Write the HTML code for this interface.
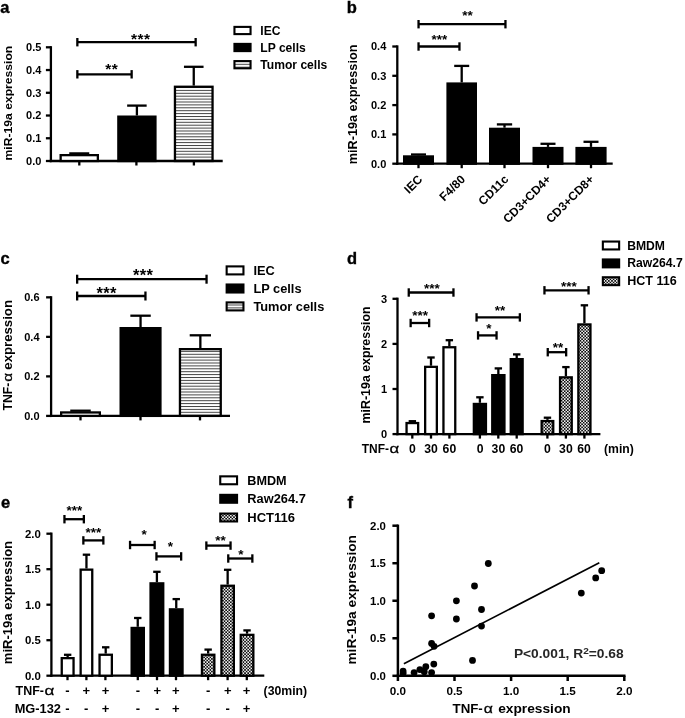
<!DOCTYPE html>
<html><head><meta charset="utf-8"><title>Figure</title>
<style>
html,body{margin:0;padding:0;background:#fff;}
body{width:685px;height:718px;overflow:hidden;font-family:"Liberation Sans",sans-serif;}
svg{display:block;font-family:"Liberation Sans",sans-serif;filter:blur(0.35px);}
</style></head><body>
<svg width="685" height="718" viewBox="0 0 685 718">
<defs>
<pattern id="hs" width="4" height="2.9" patternUnits="userSpaceOnUse"><rect width="4" height="2.9" fill="#fff"/><rect y="0" width="4" height="1.0" fill="#444"/></pattern>
<pattern id="ck" width="2" height="2" patternUnits="userSpaceOnUse" patternTransform="translate(0.1 -0.2) scale(1.575)"><rect width="2" height="2" fill="#0c0c0c"/><rect x="1" y="0" width="1" height="1" fill="#f0f0f0"/><rect x="0" y="1" width="1" height="1" fill="#f0f0f0"/></pattern>
</defs>
<rect width="685" height="718" fill="#fff"/>

<text x="0.30" y="13.20" font-size="16.5" font-weight="bold" text-anchor="start" fill="#000" stroke="#000" stroke-width="0.35">a</text>
<line x1="50.90" y1="46.15" x2="50.90" y2="162.15" stroke="#000" stroke-width="2.3" />
<line x1="49.75" y1="161.00" x2="222.70" y2="161.00" stroke="#000" stroke-width="2.3" />
<line x1="45.90" y1="161.00" x2="50.90" y2="161.00" stroke="#000" stroke-width="2.3" />
<text x="41.40" y="164.96" font-size="11" font-weight="bold" text-anchor="end" fill="#000" >0.0</text>
<line x1="45.90" y1="138.26" x2="50.90" y2="138.26" stroke="#000" stroke-width="2.3" />
<text x="41.40" y="142.22" font-size="11" font-weight="bold" text-anchor="end" fill="#000" >0.1</text>
<line x1="45.90" y1="115.52" x2="50.90" y2="115.52" stroke="#000" stroke-width="2.3" />
<text x="41.40" y="119.48" font-size="11" font-weight="bold" text-anchor="end" fill="#000" >0.2</text>
<line x1="45.90" y1="92.78" x2="50.90" y2="92.78" stroke="#000" stroke-width="2.3" />
<text x="41.40" y="96.74" font-size="11" font-weight="bold" text-anchor="end" fill="#000" >0.3</text>
<line x1="45.90" y1="70.04" x2="50.90" y2="70.04" stroke="#000" stroke-width="2.3" />
<text x="41.40" y="74.00" font-size="11" font-weight="bold" text-anchor="end" fill="#000" >0.4</text>
<line x1="45.90" y1="47.30" x2="50.90" y2="47.30" stroke="#000" stroke-width="2.3" />
<text x="41.40" y="51.26" font-size="11" font-weight="bold" text-anchor="end" fill="#000" >0.5</text>
<line x1="79.30" y1="161.00" x2="79.30" y2="165.50" stroke="#000" stroke-width="2.3" />
<line x1="136.40" y1="161.00" x2="136.40" y2="165.50" stroke="#000" stroke-width="2.3" />
<line x1="193.90" y1="161.00" x2="193.90" y2="165.50" stroke="#000" stroke-width="2.3" />
<text x="11.60" y="160.50" font-size="11.8" font-weight="bold" text-anchor="start" fill="#000" transform="rotate(-90 11.60 160.50)" textLength="114.80" lengthAdjust="spacingAndGlyphs" >miR-19a expression</text>
<line x1="79.25" y1="154.00" x2="79.25" y2="153.40" stroke="#000" stroke-width="2.3" />
<line x1="69.25" y1="153.40" x2="89.25" y2="153.40" stroke="#000" stroke-width="2.3" />
<rect x="60.65" y="155.15" width="37.20" height="5.85" fill="#fff" stroke="#000" stroke-width="2.3"/>
<line x1="136.90" y1="115.50" x2="136.90" y2="105.60" stroke="#000" stroke-width="2.3" />
<line x1="127.15" y1="105.60" x2="146.65" y2="105.60" stroke="#000" stroke-width="2.3" />
<rect x="118.35" y="116.65" width="37.10" height="44.35" fill="#000" stroke="#000" stroke-width="2.3"/>
<line x1="193.75" y1="85.60" x2="193.75" y2="66.80" stroke="#000" stroke-width="2.3" />
<line x1="183.95" y1="66.80" x2="203.55" y2="66.80" stroke="#000" stroke-width="2.3" />
<rect x="174.95" y="86.75" width="37.60" height="74.25" fill="url(#hs)" stroke="#000" stroke-width="2.3"/>
<line x1="77.35" y1="42.20" x2="195.65" y2="42.20" stroke="#000" stroke-width="2.3" />
<line x1="77.35" y1="38.00" x2="77.35" y2="46.40" stroke="#000" stroke-width="2.3" />
<line x1="195.65" y1="38.00" x2="195.65" y2="46.40" stroke="#000" stroke-width="2.3" />
<text x="140.75" y="44.49" font-size="15.5" font-weight="bold" text-anchor="middle" fill="#000" letter-spacing="0.5">***</text>
<line x1="77.35" y1="74.30" x2="131.65" y2="74.30" stroke="#000" stroke-width="2.3" />
<line x1="77.35" y1="70.10" x2="77.35" y2="78.50" stroke="#000" stroke-width="2.3" />
<line x1="131.65" y1="70.10" x2="131.65" y2="78.50" stroke="#000" stroke-width="2.3" />
<text x="111.75" y="74.00" font-size="15.5" font-weight="bold" text-anchor="middle" fill="#000" letter-spacing="0.5">**</text>
<rect x="234.45" y="26.90" width="16.10" height="7.20" fill="#fff" stroke="#000" stroke-width="2.1"/>
<text x="260.30" y="34.55" font-size="12.1" font-weight="bold" text-anchor="start" fill="#000" >IEC</text>
<rect x="234.45" y="43.90" width="16.10" height="7.20" fill="#000" stroke="#000" stroke-width="2.1"/>
<text x="260.30" y="51.55" font-size="12.1" font-weight="bold" text-anchor="start" fill="#000" >LP cells</text>
<rect x="234.45" y="61.10" width="16.10" height="7.20" fill="url(#hs)" stroke="#000" stroke-width="2.1"/>
<text x="260.30" y="68.75" font-size="12.1" font-weight="bold" text-anchor="start" fill="#000" >Tumor cells</text>
<text x="346.80" y="12.90" font-size="16.5" font-weight="bold" text-anchor="start" fill="#000" stroke="#000" stroke-width="0.35">b</text>
<line x1="397.30" y1="45.35" x2="397.30" y2="164.85" stroke="#000" stroke-width="2.3" />
<line x1="396.15" y1="163.70" x2="612.70" y2="163.70" stroke="#000" stroke-width="2.3" />
<line x1="392.30" y1="163.70" x2="397.30" y2="163.70" stroke="#000" stroke-width="2.3" />
<text x="386.30" y="167.66" font-size="11" font-weight="bold" text-anchor="end" fill="#000" >0.0</text>
<line x1="392.30" y1="134.40" x2="397.30" y2="134.40" stroke="#000" stroke-width="2.3" />
<text x="386.30" y="138.36" font-size="11" font-weight="bold" text-anchor="end" fill="#000" >0.1</text>
<line x1="392.30" y1="105.10" x2="397.30" y2="105.10" stroke="#000" stroke-width="2.3" />
<text x="386.30" y="109.06" font-size="11" font-weight="bold" text-anchor="end" fill="#000" >0.2</text>
<line x1="392.30" y1="75.80" x2="397.30" y2="75.80" stroke="#000" stroke-width="2.3" />
<text x="386.30" y="79.76" font-size="11" font-weight="bold" text-anchor="end" fill="#000" >0.3</text>
<line x1="392.30" y1="46.50" x2="397.30" y2="46.50" stroke="#000" stroke-width="2.3" />
<text x="386.30" y="50.46" font-size="11" font-weight="bold" text-anchor="end" fill="#000" >0.4</text>
<line x1="418.50" y1="163.70" x2="418.50" y2="168.20" stroke="#000" stroke-width="2.3" />
<line x1="461.70" y1="163.70" x2="461.70" y2="168.20" stroke="#000" stroke-width="2.3" />
<line x1="504.50" y1="163.70" x2="504.50" y2="168.20" stroke="#000" stroke-width="2.3" />
<line x1="548.00" y1="163.70" x2="548.00" y2="168.20" stroke="#000" stroke-width="2.3" />
<line x1="591.00" y1="163.70" x2="591.00" y2="168.20" stroke="#000" stroke-width="2.3" />
<text x="357.30" y="164.20" font-size="12.2" font-weight="bold" text-anchor="start" fill="#000" transform="rotate(-90 357.30 164.20)" textLength="119.60" lengthAdjust="spacingAndGlyphs" >miR-19a expression</text>
<line x1="418.50" y1="155.30" x2="418.50" y2="154.50" stroke="#000" stroke-width="2.3" />
<line x1="411.00" y1="154.50" x2="426.00" y2="154.50" stroke="#000" stroke-width="2.3" />
<rect x="404.15" y="156.45" width="28.70" height="7.25" fill="#000" stroke="#000" stroke-width="2.3"/>
<line x1="461.70" y1="82.40" x2="461.70" y2="65.90" stroke="#000" stroke-width="2.3" />
<line x1="454.20" y1="65.90" x2="469.20" y2="65.90" stroke="#000" stroke-width="2.3" />
<rect x="447.55" y="83.55" width="28.30" height="80.15" fill="#000" stroke="#000" stroke-width="2.3"/>
<line x1="504.50" y1="127.70" x2="504.50" y2="124.40" stroke="#000" stroke-width="2.3" />
<line x1="496.85" y1="124.40" x2="512.15" y2="124.40" stroke="#000" stroke-width="2.3" />
<rect x="490.15" y="128.85" width="28.70" height="34.85" fill="#000" stroke="#000" stroke-width="2.3"/>
<line x1="548.00" y1="146.90" x2="548.00" y2="143.80" stroke="#000" stroke-width="2.3" />
<line x1="540.50" y1="143.80" x2="555.50" y2="143.80" stroke="#000" stroke-width="2.3" />
<rect x="533.65" y="148.05" width="28.70" height="15.65" fill="#000" stroke="#000" stroke-width="2.3"/>
<line x1="591.00" y1="146.90" x2="591.00" y2="141.80" stroke="#000" stroke-width="2.3" />
<line x1="583.50" y1="141.80" x2="598.50" y2="141.80" stroke="#000" stroke-width="2.3" />
<rect x="576.55" y="148.05" width="28.90" height="15.65" fill="#000" stroke="#000" stroke-width="2.3"/>
<line x1="418.55" y1="24.20" x2="505.45" y2="24.20" stroke="#000" stroke-width="2.3" />
<line x1="418.55" y1="20.00" x2="418.55" y2="28.40" stroke="#000" stroke-width="2.3" />
<line x1="505.45" y1="20.00" x2="505.45" y2="28.40" stroke="#000" stroke-width="2.3" />
<text x="467.40" y="20.31" font-size="13.5" font-weight="bold" text-anchor="middle" fill="#000" >**</text>
<line x1="418.55" y1="46.50" x2="459.45" y2="46.50" stroke="#000" stroke-width="2.3" />
<line x1="418.55" y1="42.30" x2="418.55" y2="50.70" stroke="#000" stroke-width="2.3" />
<line x1="459.45" y1="42.30" x2="459.45" y2="50.70" stroke="#000" stroke-width="2.3" />
<text x="439.40" y="43.91" font-size="13.5" font-weight="bold" text-anchor="middle" fill="#000" >***</text>
<text x="423.20" y="180.00" font-size="12" font-weight="bold" text-anchor="end" fill="#000" transform="rotate(-45 423.20 180.00)" >IEC</text>
<text x="466.00" y="180.00" font-size="12" font-weight="bold" text-anchor="end" fill="#000" transform="rotate(-45 466.00 180.00)" >F4/80</text>
<text x="509.30" y="180.00" font-size="12" font-weight="bold" text-anchor="end" fill="#000" transform="rotate(-45 509.30 180.00)" >CD11c</text>
<text x="551.80" y="180.00" font-size="12" font-weight="bold" text-anchor="end" fill="#000" transform="rotate(-45 551.80 180.00)" >CD3+CD4+</text>
<text x="594.80" y="180.00" font-size="12" font-weight="bold" text-anchor="end" fill="#000" transform="rotate(-45 594.80 180.00)" >CD3+CD8+</text>
<text x="0.40" y="264.20" font-size="16.5" font-weight="bold" text-anchor="start" fill="#000" stroke="#000" stroke-width="0.35">c</text>
<line x1="51.10" y1="296.19" x2="51.10" y2="417.05" stroke="#000" stroke-width="2.3" />
<line x1="49.95" y1="415.90" x2="230.00" y2="415.90" stroke="#000" stroke-width="2.3" />
<line x1="46.10" y1="415.90" x2="51.10" y2="415.90" stroke="#000" stroke-width="2.3" />
<text x="39.50" y="419.86" font-size="11" font-weight="bold" text-anchor="end" fill="#000" >0.0</text>
<line x1="46.10" y1="376.38" x2="51.10" y2="376.38" stroke="#000" stroke-width="2.3" />
<text x="39.50" y="380.34" font-size="11" font-weight="bold" text-anchor="end" fill="#000" >0.2</text>
<line x1="46.10" y1="336.86" x2="51.10" y2="336.86" stroke="#000" stroke-width="2.3" />
<text x="39.50" y="340.82" font-size="11" font-weight="bold" text-anchor="end" fill="#000" >0.4</text>
<line x1="46.10" y1="297.34" x2="51.10" y2="297.34" stroke="#000" stroke-width="2.3" />
<text x="39.50" y="301.30" font-size="11" font-weight="bold" text-anchor="end" fill="#000" >0.6</text>
<line x1="80.50" y1="415.90" x2="80.50" y2="420.40" stroke="#000" stroke-width="2.3" />
<line x1="140.50" y1="415.90" x2="140.50" y2="420.40" stroke="#000" stroke-width="2.3" />
<line x1="200.00" y1="415.90" x2="200.00" y2="420.40" stroke="#000" stroke-width="2.3" />
<g transform="translate(11.60 410.40) rotate(-90)">
<text x="0" y="0" font-size="12.6" font-weight="bold" textLength="27.80" lengthAdjust="spacingAndGlyphs">TNF-</text>
<text transform="translate(28.60 0) scale(1.22 1)" x="0" y="0" font-size="12.4" font-weight="normal" stroke="#000" stroke-width="0.28">α</text>
<text x="40.70" y="0" font-size="12.6" font-weight="bold" textLength="69.70" lengthAdjust="spacingAndGlyphs">expression</text>
</g>
<line x1="80.50" y1="411.30" x2="80.50" y2="410.70" stroke="#000" stroke-width="2.3" />
<line x1="70.25" y1="410.70" x2="90.75" y2="410.70" stroke="#000" stroke-width="2.3" />
<rect x="61.15" y="412.45" width="38.70" height="3.45" fill="#fff" stroke="#000" stroke-width="2.3"/>
<line x1="140.55" y1="327.00" x2="140.55" y2="315.70" stroke="#000" stroke-width="2.3" />
<line x1="130.35" y1="315.70" x2="150.75" y2="315.70" stroke="#000" stroke-width="2.3" />
<rect x="120.65" y="328.15" width="39.80" height="87.75" fill="#000" stroke="#000" stroke-width="2.3"/>
<line x1="200.35" y1="348.00" x2="200.35" y2="335.30" stroke="#000" stroke-width="2.3" />
<line x1="189.70" y1="335.30" x2="211.00" y2="335.30" stroke="#000" stroke-width="2.3" />
<rect x="179.95" y="349.15" width="40.80" height="66.75" fill="url(#hs)" stroke="#000" stroke-width="2.3"/>
<line x1="77.15" y1="279.20" x2="206.55" y2="279.20" stroke="#000" stroke-width="2.3" />
<line x1="77.15" y1="274.70" x2="77.15" y2="283.70" stroke="#000" stroke-width="2.3" />
<line x1="206.55" y1="274.70" x2="206.55" y2="283.70" stroke="#000" stroke-width="2.3" />
<text x="143.15" y="281.28" font-size="16.5" font-weight="bold" text-anchor="middle" fill="#000" letter-spacing="0.3">***</text>
<line x1="77.15" y1="296.00" x2="145.45" y2="296.00" stroke="#000" stroke-width="2.3" />
<line x1="77.15" y1="291.50" x2="77.15" y2="300.50" stroke="#000" stroke-width="2.3" />
<line x1="145.45" y1="291.50" x2="145.45" y2="300.50" stroke="#000" stroke-width="2.3" />
<text x="106.55" y="298.78" font-size="16.5" font-weight="bold" text-anchor="middle" fill="#000" letter-spacing="0.3">***</text>
<rect x="226.65" y="266.40" width="16.80" height="8.00" fill="#fff" stroke="#000" stroke-width="2.1"/>
<text x="253.40" y="274.69" font-size="12.8" font-weight="bold" text-anchor="start" fill="#000" >IEC</text>
<rect x="226.65" y="284.50" width="16.80" height="8.00" fill="#000" stroke="#000" stroke-width="2.1"/>
<text x="253.40" y="292.79" font-size="12.8" font-weight="bold" text-anchor="start" fill="#000" >LP cells</text>
<rect x="226.65" y="302.40" width="16.80" height="8.00" fill="url(#hs)" stroke="#000" stroke-width="2.1"/>
<text x="253.40" y="310.69" font-size="12.8" font-weight="bold" text-anchor="start" fill="#000" >Tumor cells</text>
<text x="347.00" y="263.90" font-size="16.5" font-weight="bold" text-anchor="start" fill="#000" stroke="#000" stroke-width="0.35">d</text>
<line x1="397.50" y1="297.65" x2="397.50" y2="435.25" stroke="#000" stroke-width="2.3" />
<line x1="396.35" y1="434.10" x2="600.40" y2="434.10" stroke="#000" stroke-width="2.3" />
<line x1="392.50" y1="434.10" x2="397.50" y2="434.10" stroke="#000" stroke-width="2.3" />
<text x="387.00" y="438.36" font-size="11" font-weight="bold" text-anchor="end" fill="#000" >0</text>
<line x1="392.50" y1="389.00" x2="397.50" y2="389.00" stroke="#000" stroke-width="2.3" />
<text x="387.00" y="393.26" font-size="11" font-weight="bold" text-anchor="end" fill="#000" >1</text>
<line x1="392.50" y1="343.90" x2="397.50" y2="343.90" stroke="#000" stroke-width="2.3" />
<text x="387.00" y="348.16" font-size="11" font-weight="bold" text-anchor="end" fill="#000" >2</text>
<line x1="392.50" y1="298.80" x2="397.50" y2="298.80" stroke="#000" stroke-width="2.3" />
<text x="387.00" y="303.06" font-size="11" font-weight="bold" text-anchor="end" fill="#000" >3</text>
<line x1="412.30" y1="434.10" x2="412.30" y2="438.60" stroke="#000" stroke-width="2.3" />
<line x1="431.00" y1="434.10" x2="431.00" y2="438.60" stroke="#000" stroke-width="2.3" />
<line x1="449.40" y1="434.10" x2="449.40" y2="438.60" stroke="#000" stroke-width="2.3" />
<line x1="479.90" y1="434.10" x2="479.90" y2="438.60" stroke="#000" stroke-width="2.3" />
<line x1="498.30" y1="434.10" x2="498.30" y2="438.60" stroke="#000" stroke-width="2.3" />
<line x1="516.70" y1="434.10" x2="516.70" y2="438.60" stroke="#000" stroke-width="2.3" />
<line x1="547.40" y1="434.10" x2="547.40" y2="438.60" stroke="#000" stroke-width="2.3" />
<line x1="565.90" y1="434.10" x2="565.90" y2="438.60" stroke="#000" stroke-width="2.3" />
<line x1="584.40" y1="434.10" x2="584.40" y2="438.60" stroke="#000" stroke-width="2.3" />
<text x="369.90" y="423.40" font-size="12.3" font-weight="bold" text-anchor="start" fill="#000" transform="rotate(-90 369.90 423.40)" textLength="117.00" lengthAdjust="spacingAndGlyphs" >miR-19a expression</text>
<line x1="412.35" y1="421.90" x2="412.35" y2="421.20" stroke="#000" stroke-width="2.3" />
<line x1="408.65" y1="421.20" x2="416.05" y2="421.20" stroke="#000" stroke-width="2.3" />
<rect x="406.55" y="423.05" width="11.60" height="11.05" fill="#fff" stroke="#000" stroke-width="2.3"/>
<line x1="431.00" y1="365.70" x2="431.00" y2="357.50" stroke="#000" stroke-width="2.3" />
<line x1="427.30" y1="357.50" x2="434.70" y2="357.50" stroke="#000" stroke-width="2.3" />
<rect x="425.15" y="366.85" width="11.70" height="67.25" fill="#fff" stroke="#000" stroke-width="2.3"/>
<line x1="449.35" y1="346.10" x2="449.35" y2="340.20" stroke="#000" stroke-width="2.3" />
<line x1="445.65" y1="340.20" x2="453.05" y2="340.20" stroke="#000" stroke-width="2.3" />
<rect x="443.45" y="347.25" width="11.80" height="86.85" fill="#fff" stroke="#000" stroke-width="2.3"/>
<line x1="479.90" y1="402.80" x2="479.90" y2="397.30" stroke="#000" stroke-width="2.3" />
<line x1="476.20" y1="397.30" x2="483.60" y2="397.30" stroke="#000" stroke-width="2.3" />
<rect x="473.85" y="403.95" width="12.10" height="30.15" fill="#000" stroke="#000" stroke-width="2.3"/>
<line x1="498.35" y1="374.00" x2="498.35" y2="368.40" stroke="#000" stroke-width="2.3" />
<line x1="494.65" y1="368.40" x2="502.05" y2="368.40" stroke="#000" stroke-width="2.3" />
<rect x="492.25" y="375.15" width="12.20" height="58.95" fill="#000" stroke="#000" stroke-width="2.3"/>
<line x1="516.70" y1="358.00" x2="516.70" y2="354.40" stroke="#000" stroke-width="2.3" />
<line x1="513.00" y1="354.40" x2="520.40" y2="354.40" stroke="#000" stroke-width="2.3" />
<rect x="510.75" y="359.15" width="11.90" height="74.95" fill="#000" stroke="#000" stroke-width="2.3"/>
<line x1="547.45" y1="419.90" x2="547.45" y2="417.70" stroke="#000" stroke-width="2.3" />
<line x1="543.75" y1="417.70" x2="551.15" y2="417.70" stroke="#000" stroke-width="2.3" />
<rect x="541.65" y="421.05" width="11.60" height="13.05" fill="url(#ck)" stroke="#000" stroke-width="2.3"/>
<line x1="565.90" y1="376.20" x2="565.90" y2="367.10" stroke="#000" stroke-width="2.3" />
<line x1="562.20" y1="367.10" x2="569.60" y2="367.10" stroke="#000" stroke-width="2.3" />
<rect x="560.05" y="377.35" width="11.70" height="56.75" fill="url(#ck)" stroke="#000" stroke-width="2.3"/>
<line x1="584.40" y1="323.30" x2="584.40" y2="305.30" stroke="#000" stroke-width="2.3" />
<line x1="580.70" y1="305.30" x2="588.10" y2="305.30" stroke="#000" stroke-width="2.3" />
<rect x="578.35" y="324.45" width="12.10" height="109.65" fill="url(#ck)" stroke="#000" stroke-width="2.3"/>
<line x1="408.75" y1="292.50" x2="453.45" y2="292.50" stroke="#000" stroke-width="2.3" />
<line x1="408.75" y1="288.30" x2="408.75" y2="296.70" stroke="#000" stroke-width="2.3" />
<line x1="453.45" y1="288.30" x2="453.45" y2="296.70" stroke="#000" stroke-width="2.3" />
<text x="431.80" y="292.92" font-size="13.5" font-weight="bold" text-anchor="middle" fill="#000" >***</text>
<line x1="410.65" y1="323.00" x2="429.15" y2="323.00" stroke="#000" stroke-width="2.3" />
<line x1="410.65" y1="318.80" x2="410.65" y2="327.20" stroke="#000" stroke-width="2.3" />
<line x1="429.15" y1="318.80" x2="429.15" y2="327.20" stroke="#000" stroke-width="2.3" />
<text x="420.20" y="320.31" font-size="13.5" font-weight="bold" text-anchor="middle" fill="#000" >***</text>
<line x1="476.55" y1="317.40" x2="519.85" y2="317.40" stroke="#000" stroke-width="2.3" />
<line x1="476.55" y1="313.20" x2="476.55" y2="321.60" stroke="#000" stroke-width="2.3" />
<line x1="519.85" y1="313.20" x2="519.85" y2="321.60" stroke="#000" stroke-width="2.3" />
<text x="500.10" y="314.92" font-size="13.5" font-weight="bold" text-anchor="middle" fill="#000" >**</text>
<line x1="478.05" y1="335.40" x2="496.55" y2="335.40" stroke="#000" stroke-width="2.3" />
<line x1="478.05" y1="331.20" x2="478.05" y2="339.60" stroke="#000" stroke-width="2.3" />
<line x1="496.55" y1="331.20" x2="496.55" y2="339.60" stroke="#000" stroke-width="2.3" />
<text x="489.00" y="333.12" font-size="13.5" font-weight="bold" text-anchor="middle" fill="#000" >*</text>
<line x1="544.45" y1="290.30" x2="588.55" y2="290.30" stroke="#000" stroke-width="2.3" />
<line x1="544.45" y1="286.10" x2="544.45" y2="294.50" stroke="#000" stroke-width="2.3" />
<line x1="588.55" y1="286.10" x2="588.55" y2="294.50" stroke="#000" stroke-width="2.3" />
<text x="568.90" y="291.22" font-size="13.5" font-weight="bold" text-anchor="middle" fill="#000" >***</text>
<line x1="547.75" y1="352.20" x2="566.15" y2="352.20" stroke="#000" stroke-width="2.3" />
<line x1="547.75" y1="348.00" x2="547.75" y2="356.40" stroke="#000" stroke-width="2.3" />
<line x1="566.15" y1="348.00" x2="566.15" y2="356.40" stroke="#000" stroke-width="2.3" />
<text x="558.00" y="351.72" font-size="13.5" font-weight="bold" text-anchor="middle" fill="#000" >**</text>
<g transform="translate(361.80 453.30)">
<text x="0" y="0" font-size="12.9" font-weight="bold" textLength="27.20" lengthAdjust="spacingAndGlyphs">TNF-</text>
<text transform="translate(27.80 0) scale(1.33 1)" x="0" y="0" font-size="12.6" font-weight="normal" stroke="#000" stroke-width="0.28">α</text>
</g>
<text x="412.30" y="453.40" font-size="12.2" font-weight="bold" text-anchor="middle" fill="#000" >0</text>
<text x="431.00" y="453.40" font-size="12.2" font-weight="bold" text-anchor="middle" fill="#000" >30</text>
<text x="449.40" y="453.40" font-size="12.2" font-weight="bold" text-anchor="middle" fill="#000" >60</text>
<text x="480.20" y="453.40" font-size="12.2" font-weight="bold" text-anchor="middle" fill="#000" >0</text>
<text x="498.40" y="453.40" font-size="12.2" font-weight="bold" text-anchor="middle" fill="#000" >30</text>
<text x="516.60" y="453.40" font-size="12.2" font-weight="bold" text-anchor="middle" fill="#000" >60</text>
<text x="547.30" y="453.40" font-size="12.2" font-weight="bold" text-anchor="middle" fill="#000" >0</text>
<text x="565.90" y="453.40" font-size="12.2" font-weight="bold" text-anchor="middle" fill="#000" >30</text>
<text x="584.00" y="453.40" font-size="12.2" font-weight="bold" text-anchor="middle" fill="#000" >60</text>
<text x="604.00" y="453.40" font-size="12.2" font-weight="bold" text-anchor="start" fill="#000" >(min)</text>
<rect x="602.85" y="241.55" width="16.30" height="7.90" fill="#fff" stroke="#000" stroke-width="2.1"/>
<text x="627.20" y="249.59" font-size="12.2" font-weight="bold" text-anchor="start" fill="#000" textLength="37.80" lengthAdjust="spacingAndGlyphs" >BMDM</text>
<rect x="602.85" y="259.45" width="16.30" height="7.90" fill="#000" stroke="#000" stroke-width="2.1"/>
<text x="627.20" y="267.49" font-size="12.2" font-weight="bold" text-anchor="start" fill="#000" textLength="55.60" lengthAdjust="spacingAndGlyphs" >Raw264.7</text>
<rect x="602.85" y="277.25" width="16.30" height="7.90" fill="url(#ck)" stroke="#000" stroke-width="2.1"/>
<text x="627.20" y="285.29" font-size="12.2" font-weight="bold" text-anchor="start" fill="#000" textLength="49.50" lengthAdjust="spacingAndGlyphs" >HCT 116</text>
<text x="1.00" y="508.00" font-size="16.5" font-weight="bold" text-anchor="start" fill="#000" stroke="#000" stroke-width="0.35">e</text>
<line x1="51.40" y1="532.55" x2="51.40" y2="676.85" stroke="#000" stroke-width="2.3" />
<line x1="50.25" y1="675.70" x2="264.30" y2="675.70" stroke="#000" stroke-width="2.3" />
<line x1="46.40" y1="675.70" x2="51.40" y2="675.70" stroke="#000" stroke-width="2.3" />
<text x="40.80" y="679.80" font-size="11.4" font-weight="bold" text-anchor="end" fill="#000" >0.0</text>
<line x1="46.40" y1="640.20" x2="51.40" y2="640.20" stroke="#000" stroke-width="2.3" />
<text x="40.80" y="644.30" font-size="11.4" font-weight="bold" text-anchor="end" fill="#000" >0.5</text>
<line x1="46.40" y1="604.70" x2="51.40" y2="604.70" stroke="#000" stroke-width="2.3" />
<text x="40.80" y="608.80" font-size="11.4" font-weight="bold" text-anchor="end" fill="#000" >1.0</text>
<line x1="46.40" y1="569.20" x2="51.40" y2="569.20" stroke="#000" stroke-width="2.3" />
<text x="40.80" y="573.30" font-size="11.4" font-weight="bold" text-anchor="end" fill="#000" >1.5</text>
<line x1="46.40" y1="533.70" x2="51.40" y2="533.70" stroke="#000" stroke-width="2.3" />
<text x="40.80" y="537.80" font-size="11.4" font-weight="bold" text-anchor="end" fill="#000" >2.0</text>
<line x1="67.50" y1="675.70" x2="67.50" y2="680.20" stroke="#000" stroke-width="2.3" />
<line x1="86.40" y1="675.70" x2="86.40" y2="680.20" stroke="#000" stroke-width="2.3" />
<line x1="105.40" y1="675.70" x2="105.40" y2="680.20" stroke="#000" stroke-width="2.3" />
<line x1="137.80" y1="675.70" x2="137.80" y2="680.20" stroke="#000" stroke-width="2.3" />
<line x1="157.00" y1="675.70" x2="157.00" y2="680.20" stroke="#000" stroke-width="2.3" />
<line x1="176.00" y1="675.70" x2="176.00" y2="680.20" stroke="#000" stroke-width="2.3" />
<line x1="208.10" y1="675.70" x2="208.10" y2="680.20" stroke="#000" stroke-width="2.3" />
<line x1="227.60" y1="675.70" x2="227.60" y2="680.20" stroke="#000" stroke-width="2.3" />
<line x1="246.80" y1="675.70" x2="246.80" y2="680.20" stroke="#000" stroke-width="2.3" />
<text x="12.20" y="664.20" font-size="12.9" font-weight="bold" text-anchor="start" fill="#000" transform="rotate(-90 12.20 664.20)" textLength="123.30" lengthAdjust="spacingAndGlyphs" >miR-19a expression</text>
<line x1="67.65" y1="657.00" x2="67.65" y2="654.80" stroke="#000" stroke-width="2.3" />
<line x1="63.95" y1="654.80" x2="71.35" y2="654.80" stroke="#000" stroke-width="2.3" />
<rect x="61.75" y="658.15" width="11.80" height="17.55" fill="#fff" stroke="#000" stroke-width="2.3"/>
<line x1="86.45" y1="568.50" x2="86.45" y2="554.70" stroke="#000" stroke-width="2.3" />
<line x1="82.75" y1="554.70" x2="90.15" y2="554.70" stroke="#000" stroke-width="2.3" />
<rect x="80.65" y="569.65" width="11.60" height="106.05" fill="#fff" stroke="#000" stroke-width="2.3"/>
<line x1="105.70" y1="653.60" x2="105.70" y2="647.30" stroke="#000" stroke-width="2.3" />
<line x1="102.00" y1="647.30" x2="109.40" y2="647.30" stroke="#000" stroke-width="2.3" />
<rect x="99.55" y="654.75" width="12.30" height="20.95" fill="#fff" stroke="#000" stroke-width="2.3"/>
<line x1="137.75" y1="626.80" x2="137.75" y2="618.00" stroke="#000" stroke-width="2.3" />
<line x1="134.05" y1="618.00" x2="141.45" y2="618.00" stroke="#000" stroke-width="2.3" />
<rect x="131.65" y="627.95" width="12.20" height="47.75" fill="#000" stroke="#000" stroke-width="2.3"/>
<line x1="156.90" y1="582.20" x2="156.90" y2="571.80" stroke="#000" stroke-width="2.3" />
<line x1="153.20" y1="571.80" x2="160.60" y2="571.80" stroke="#000" stroke-width="2.3" />
<rect x="150.55" y="583.35" width="12.70" height="92.35" fill="#000" stroke="#000" stroke-width="2.3"/>
<line x1="176.25" y1="608.20" x2="176.25" y2="599.10" stroke="#000" stroke-width="2.3" />
<line x1="172.55" y1="599.10" x2="179.95" y2="599.10" stroke="#000" stroke-width="2.3" />
<rect x="169.95" y="609.35" width="12.60" height="66.35" fill="#000" stroke="#000" stroke-width="2.3"/>
<line x1="208.15" y1="653.60" x2="208.15" y2="649.60" stroke="#000" stroke-width="2.3" />
<line x1="204.45" y1="649.60" x2="211.85" y2="649.60" stroke="#000" stroke-width="2.3" />
<rect x="201.95" y="654.75" width="12.40" height="20.95" fill="url(#ck)" stroke="#000" stroke-width="2.3"/>
<line x1="227.65" y1="584.60" x2="227.65" y2="569.80" stroke="#000" stroke-width="2.3" />
<line x1="223.95" y1="569.80" x2="231.35" y2="569.80" stroke="#000" stroke-width="2.3" />
<rect x="221.45" y="585.75" width="12.40" height="89.95" fill="url(#ck)" stroke="#000" stroke-width="2.3"/>
<line x1="247.05" y1="633.70" x2="247.05" y2="630.40" stroke="#000" stroke-width="2.3" />
<line x1="243.35" y1="630.40" x2="250.75" y2="630.40" stroke="#000" stroke-width="2.3" />
<rect x="240.75" y="634.85" width="12.60" height="40.85" fill="url(#ck)" stroke="#000" stroke-width="2.3"/>
<line x1="64.45" y1="519.20" x2="83.85" y2="519.20" stroke="#000" stroke-width="2.3" />
<line x1="64.45" y1="515.00" x2="64.45" y2="523.40" stroke="#000" stroke-width="2.3" />
<line x1="83.85" y1="515.00" x2="83.85" y2="523.40" stroke="#000" stroke-width="2.3" />
<text x="74.50" y="514.91" font-size="13.5" font-weight="bold" text-anchor="middle" fill="#000" >***</text>
<line x1="83.35" y1="540.40" x2="103.35" y2="540.40" stroke="#000" stroke-width="2.3" />
<line x1="83.35" y1="536.20" x2="83.35" y2="544.60" stroke="#000" stroke-width="2.3" />
<line x1="103.35" y1="536.20" x2="103.35" y2="544.60" stroke="#000" stroke-width="2.3" />
<text x="93.30" y="536.51" font-size="13.5" font-weight="bold" text-anchor="middle" fill="#000" >***</text>
<line x1="130.05" y1="545.00" x2="154.65" y2="545.00" stroke="#000" stroke-width="2.3" />
<line x1="130.05" y1="540.80" x2="130.05" y2="549.20" stroke="#000" stroke-width="2.3" />
<line x1="154.65" y1="540.80" x2="154.65" y2="549.20" stroke="#000" stroke-width="2.3" />
<text x="144.20" y="538.91" font-size="13.5" font-weight="bold" text-anchor="middle" fill="#000" >*</text>
<line x1="156.45" y1="556.40" x2="181.15" y2="556.40" stroke="#000" stroke-width="2.3" />
<line x1="156.45" y1="552.20" x2="156.45" y2="560.60" stroke="#000" stroke-width="2.3" />
<line x1="181.15" y1="552.20" x2="181.15" y2="560.60" stroke="#000" stroke-width="2.3" />
<text x="170.50" y="551.22" font-size="13.5" font-weight="bold" text-anchor="middle" fill="#000" >*</text>
<line x1="206.35" y1="545.60" x2="230.55" y2="545.60" stroke="#000" stroke-width="2.3" />
<line x1="206.35" y1="541.40" x2="206.35" y2="549.80" stroke="#000" stroke-width="2.3" />
<line x1="230.55" y1="541.40" x2="230.55" y2="549.80" stroke="#000" stroke-width="2.3" />
<text x="220.40" y="544.82" font-size="13.5" font-weight="bold" text-anchor="middle" fill="#000" >**</text>
<line x1="228.25" y1="558.50" x2="252.35" y2="558.50" stroke="#000" stroke-width="2.3" />
<line x1="228.25" y1="554.30" x2="228.25" y2="562.70" stroke="#000" stroke-width="2.3" />
<line x1="252.35" y1="554.30" x2="252.35" y2="562.70" stroke="#000" stroke-width="2.3" />
<text x="241.00" y="559.12" font-size="13.5" font-weight="bold" text-anchor="middle" fill="#000" >*</text>
<g transform="translate(15.60 694.70)">
<text x="0" y="0" font-size="13.1" font-weight="bold" textLength="28.30" lengthAdjust="spacingAndGlyphs">TNF-</text>
<text transform="translate(28.90 0) scale(1.33 1)" x="0" y="0" font-size="12.8" font-weight="normal" stroke="#000" stroke-width="0.28">α</text>
</g>
<text x="14.70" y="713.20" font-size="13.1" font-weight="bold" text-anchor="start" fill="#000" textLength="46.30" lengthAdjust="spacingAndGlyphs" >MG-132</text>
<text x="67.50" y="694.90" font-size="13" font-weight="bold" text-anchor="middle" fill="#000" >-</text>
<text x="67.50" y="713.40" font-size="13" font-weight="bold" text-anchor="middle" fill="#000" >-</text>
<text x="86.20" y="694.90" font-size="13" font-weight="bold" text-anchor="middle" fill="#000" >+</text>
<text x="86.20" y="713.40" font-size="13" font-weight="bold" text-anchor="middle" fill="#000" >-</text>
<text x="105.60" y="694.90" font-size="13" font-weight="bold" text-anchor="middle" fill="#000" >+</text>
<text x="105.60" y="713.40" font-size="13" font-weight="bold" text-anchor="middle" fill="#000" >+</text>
<text x="137.80" y="694.90" font-size="13" font-weight="bold" text-anchor="middle" fill="#000" >-</text>
<text x="137.80" y="713.40" font-size="13" font-weight="bold" text-anchor="middle" fill="#000" >-</text>
<text x="157.20" y="694.90" font-size="13" font-weight="bold" text-anchor="middle" fill="#000" >+</text>
<text x="157.20" y="713.40" font-size="13" font-weight="bold" text-anchor="middle" fill="#000" >-</text>
<text x="175.80" y="694.90" font-size="13" font-weight="bold" text-anchor="middle" fill="#000" >+</text>
<text x="175.80" y="713.40" font-size="13" font-weight="bold" text-anchor="middle" fill="#000" >+</text>
<text x="208.10" y="694.90" font-size="13" font-weight="bold" text-anchor="middle" fill="#000" >-</text>
<text x="208.10" y="713.40" font-size="13" font-weight="bold" text-anchor="middle" fill="#000" >-</text>
<text x="227.70" y="694.90" font-size="13" font-weight="bold" text-anchor="middle" fill="#000" >+</text>
<text x="227.70" y="713.40" font-size="13" font-weight="bold" text-anchor="middle" fill="#000" >-</text>
<text x="246.60" y="694.90" font-size="13" font-weight="bold" text-anchor="middle" fill="#000" >+</text>
<text x="246.60" y="713.40" font-size="13" font-weight="bold" text-anchor="middle" fill="#000" >+</text>
<text x="263.60" y="694.70" font-size="12.2" font-weight="bold" text-anchor="start" fill="#000" textLength="43.60" lengthAdjust="spacingAndGlyphs" >(30min)</text>
<rect x="220.25" y="476.35" width="16.80" height="7.90" fill="#fff" stroke="#000" stroke-width="2.1"/>
<text x="247.30" y="484.55" font-size="12.7" font-weight="bold" text-anchor="start" fill="#000" textLength="39.30" lengthAdjust="spacingAndGlyphs" >BMDM</text>
<rect x="220.25" y="494.85" width="16.80" height="7.90" fill="#000" stroke="#000" stroke-width="2.1"/>
<text x="247.30" y="503.05" font-size="12.7" font-weight="bold" text-anchor="start" fill="#000" textLength="58.50" lengthAdjust="spacingAndGlyphs" >Raw264.7</text>
<rect x="220.25" y="513.55" width="16.80" height="7.90" fill="url(#ck)" stroke="#000" stroke-width="2.1"/>
<text x="247.30" y="521.75" font-size="12.7" font-weight="bold" text-anchor="start" fill="#000" textLength="47.70" lengthAdjust="spacingAndGlyphs" >HCT116</text>
<text x="347.40" y="507.60" font-size="16.5" font-weight="bold" text-anchor="start" fill="#000" stroke="#000" stroke-width="0.35">f</text>
<line x1="397.90" y1="524.55" x2="397.90" y2="677.05" stroke="#000" stroke-width="2.5" />
<line x1="396.65" y1="675.80" x2="625.50" y2="675.80" stroke="#000" stroke-width="2.5" />
<line x1="392.40" y1="675.80" x2="397.90" y2="675.80" stroke="#000" stroke-width="2.5" />
<text x="385.90" y="679.60" font-size="11.4" font-weight="bold" text-anchor="end" fill="#000" >0.0</text>
<line x1="392.40" y1="638.27" x2="397.90" y2="638.27" stroke="#000" stroke-width="2.5" />
<text x="385.90" y="642.08" font-size="11.4" font-weight="bold" text-anchor="end" fill="#000" >0.5</text>
<line x1="392.40" y1="600.75" x2="397.90" y2="600.75" stroke="#000" stroke-width="2.5" />
<text x="385.90" y="604.55" font-size="11.4" font-weight="bold" text-anchor="end" fill="#000" >1.0</text>
<line x1="392.40" y1="563.22" x2="397.90" y2="563.22" stroke="#000" stroke-width="2.5" />
<text x="385.90" y="567.03" font-size="11.4" font-weight="bold" text-anchor="end" fill="#000" >1.5</text>
<line x1="392.40" y1="525.70" x2="397.90" y2="525.70" stroke="#000" stroke-width="2.5" />
<text x="385.90" y="529.50" font-size="11.4" font-weight="bold" text-anchor="end" fill="#000" >2.0</text>
<line x1="397.90" y1="675.80" x2="397.90" y2="681.00" stroke="#000" stroke-width="2.5" />
<line x1="454.50" y1="675.80" x2="454.50" y2="681.00" stroke="#000" stroke-width="2.5" />
<line x1="511.10" y1="675.80" x2="511.10" y2="681.00" stroke="#000" stroke-width="2.5" />
<line x1="567.70" y1="675.80" x2="567.70" y2="681.00" stroke="#000" stroke-width="2.5" />
<line x1="624.30" y1="675.80" x2="624.30" y2="681.00" stroke="#000" stroke-width="2.5" />
<text x="397.90" y="694.90" font-size="11.7" font-weight="bold" text-anchor="middle" fill="#000" >0.0</text>
<text x="454.50" y="694.90" font-size="11.7" font-weight="bold" text-anchor="middle" fill="#000" >0.5</text>
<text x="511.10" y="694.90" font-size="11.7" font-weight="bold" text-anchor="middle" fill="#000" >1.0</text>
<text x="567.70" y="694.90" font-size="11.7" font-weight="bold" text-anchor="middle" fill="#000" >1.5</text>
<text x="624.30" y="694.90" font-size="11.7" font-weight="bold" text-anchor="middle" fill="#000" >2.0</text>
<text x="356.10" y="664.60" font-size="13.1" font-weight="bold" text-anchor="start" fill="#000" transform="rotate(-90 356.10 664.60)" textLength="129.60" lengthAdjust="spacingAndGlyphs" >miR-19a expression</text>
<g transform="translate(452.50 713.30)">
<text x="0" y="0" font-size="12.8" font-weight="bold" textLength="30.30" lengthAdjust="spacingAndGlyphs">TNF-</text>
<text transform="translate(31.30 0) scale(1.25 1)" x="0" y="0" font-size="12.6" font-weight="normal" stroke="#000" stroke-width="0.28">α</text>
<text x="45.70" y="0" font-size="12.8" font-weight="bold" textLength="72.50" lengthAdjust="spacingAndGlyphs">expression</text>
</g>
<line x1="403.90" y1="663.80" x2="599.30" y2="562.70" stroke="#000" stroke-width="1.7" />
<circle cx="403.1" cy="671.1" r="3.4" fill="#000"/>
<circle cx="403.1" cy="673.3" r="3.4" fill="#000"/>
<circle cx="414.1" cy="672.6" r="3.4" fill="#000"/>
<circle cx="419.9" cy="669.6" r="3.4" fill="#000"/>
<circle cx="425.8" cy="666.7" r="3.4" fill="#000"/>
<circle cx="424.3" cy="671.8" r="3.4" fill="#000"/>
<circle cx="431.6" cy="672.6" r="3.4" fill="#000"/>
<circle cx="433.8" cy="664.1" r="3.4" fill="#000"/>
<circle cx="431.6" cy="643.4" r="3.4" fill="#000"/>
<circle cx="434.1" cy="646.3" r="3.4" fill="#000"/>
<circle cx="472.5" cy="660.4" r="3.4" fill="#000"/>
<circle cx="481.5" cy="626.1" r="3.4" fill="#000"/>
<circle cx="456.4" cy="619.0" r="3.4" fill="#000"/>
<circle cx="456.4" cy="600.8" r="3.4" fill="#000"/>
<circle cx="431.6" cy="615.8" r="3.4" fill="#000"/>
<circle cx="474.5" cy="586.0" r="3.4" fill="#000"/>
<circle cx="481.5" cy="609.5" r="3.4" fill="#000"/>
<circle cx="488.3" cy="563.5" r="3.4" fill="#000"/>
<circle cx="581.3" cy="593.1" r="3.4" fill="#000"/>
<circle cx="595.7" cy="577.9" r="3.4" fill="#000"/>
<circle cx="601.7" cy="570.7" r="3.4" fill="#000"/>
<text x="513.90" y="657.80" font-size="12.3" font-weight="bold" text-anchor="start" fill="#262626" textLength="109.80" lengthAdjust="spacingAndGlyphs" >P&lt;0.001, R<tspan font-size="9" dy="-4.2">2</tspan><tspan dy="4.2">=0.68</tspan></text>
</svg></body></html>
